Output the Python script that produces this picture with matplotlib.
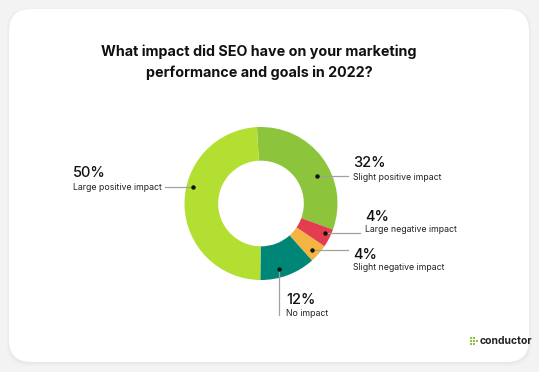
import numpy as np
import matplotlib
matplotlib.use("Agg")
import matplotlib.pyplot as plt
from matplotlib.patches import FancyBboxPatch, Rectangle

plt.rcParams['font.family'] = ['Inter', 'DejaVu Sans']

# data
labels = ["Slight positive impact", "Large negative impact", "Slight negative impact",
          "No impact", "Large positive impact"]
values = [32, 4, 4, 12, 50]
colors = ["#8cc43c", "#e33e50", "#f4b441", "#008676", "#b3df33"]
title = "What impact did SEO have on your marketing\nperformance and goals in 2022?"

# layout (pixels)
W, H = 539, 372
cx, cy, R = 261, 203.5, 76.5
ring = 0.44
# where the dot sits inside each wedge (fraction of wedge span), and its radius
dot_frac = [0.59, 0.35, 0.55, 0.62, 0.585]
dot_r = [62, 70, 69, 68, 70]
# label anchor: (line kind, line end, text x, pct y, desc y)
lab_pos = [
    ("h", 348, 353, 163, 177),
    ("h", 360, 365, 217, 230),
    ("h", 348, 353, 255, 268),
    ("v", 315, 286, 300, 313),
    ("h", 165, 73, 173, 188),
]

fig = plt.figure(figsize=(W / 100, H / 100), dpi=100, facecolor="#f3f3f3")
ax = fig.add_axes([0, 0, 1, 1])

# card with soft shadow
for i in range(4):
    ax.add_patch(FancyBboxPatch((9 - i * 0.8, 10 - i * 0.6), 520 + i * 1.6, 353 + i * 1.6,
                                boxstyle="round,pad=0,rounding_size=22",
                                fc="#000000", ec="none", alpha=0.012, zorder=0))
ax.add_patch(FancyBboxPatch((9, 9), 520, 353, boxstyle="round,pad=0,rounding_size=22",
                            fc="white", ec="none", zorder=1))

# y axis points down, so counterclock=True draws clockwise on screen
wedges, _ = ax.pie(values, colors=colors, center=(cx, cy), radius=R, startangle=-93,
                   counterclock=True, wedgeprops=dict(width=R * ring, edgecolor="none"),
                   frame=False)
for w in wedges:
    w.set_zorder(2)

for w, fr, rr, lp, lab, v in zip(wedges, dot_frac, dot_r, lab_pos, labels, values):
    th = np.deg2rad(w.theta1 + fr * (w.theta2 - w.theta1))
    dx, dy = cx + rr * np.cos(th), cy + rr * np.sin(th)
    kind, end, tx, py, dy_ = lp
    if kind == "h":
        ax.plot([dx, end], [dy, dy], color="#a0a0a0", lw=0.9, zorder=3)
    else:
        ax.plot([dx, dx], [dy, end], color="#a0a0a0", lw=0.9, zorder=3)
    ax.plot(dx, dy, "o", color="#111111", ms=2.2, zorder=4)
    ax.text(tx, py, f"{v}%", fontsize=10.5, fontweight="medium", color="#111111",
            va="center", ha="left", zorder=5)
    ax.text(tx, dy_, lab, fontsize=6.3, color="#222222", va="center", ha="left", zorder=5)

ax.text(259, 62, title, fontsize=10.3, fontweight="bold", color="#111111",
        ha="center", va="center", linespacing=1.55, zorder=5)

# logo
for (sx, sy) in [(470, 337), (473, 337), (470, 340), (473, 340), (476, 340), (470, 343), (473, 343)]:
    ax.add_patch(Rectangle((sx, sy), 2.3, 2.3, fc="#8cc43c", ec="none", zorder=5))
ax.text(480, 340.5, "conductor", fontsize=7.5, fontweight="bold", color="#222222",
        ha="left", va="center", zorder=5)

ax.set_xlim(0, W)
ax.set_ylim(H, 0)
ax.set_aspect("auto")
ax.axis("off")

fig.savefig("out.png", dpi=100, facecolor=fig.get_facecolor())
